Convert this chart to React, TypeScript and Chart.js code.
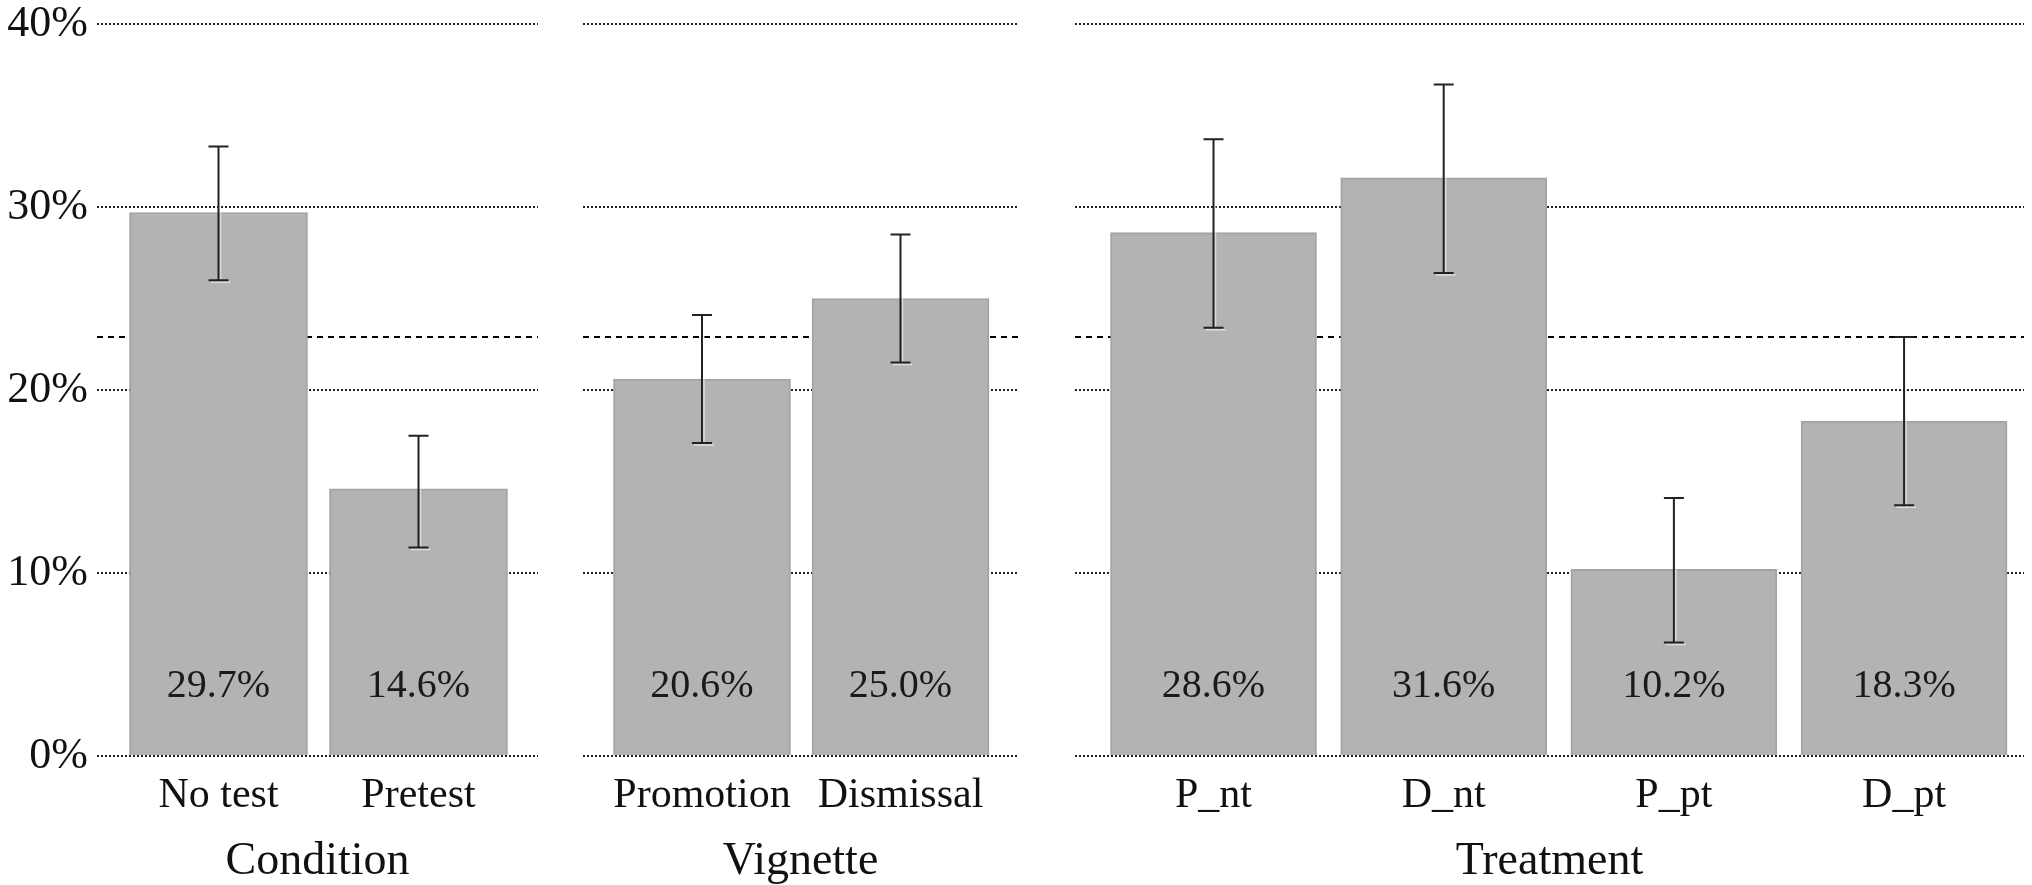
import React, { useEffect, useRef } from 'react';
import { Chart, registerables } from 'chart.js';

Chart.register(...registerables);

// ---------- data ----------
const conditionLabels = ['No test', 'Pretest'];
const conditionValues = [29.7, 14.6];
const conditionLow = [26.0, 11.4];
const conditionHigh = [33.3, 17.5];

const vignetteLabels = ['Promotion', 'Dismissal'];
const vignetteValues = [20.6, 25.0];
const vignetteLow = [17.1, 21.5];
const vignetteHigh = [24.1, 28.5];

const treatmentLabels = ['P_nt', 'D_nt', 'P_pt', 'D_pt'];
const treatmentValues = [28.6, 31.6, 10.2, 18.3];
const treatmentLow = [23.4, 26.4, 6.2, 13.7];
const treatmentHigh = [33.7, 36.7, 14.1, 22.9];

const groupTitles = ['Condition', 'Vignette', 'Treatment'];
const overallMean = 22.9;
const yMin = 0;
const yMax = 40;
const yStep = 10;

// ---------- styling ----------
const FONT = "'Liberation Serif', 'Times New Roman', serif";
const CANVAS_H = 885;
const AREA_TOP = 24;
const AREA_BOTTOM = 756;

type PanelProps = {
  labels: string[];
  values: number[];
  low: number[];
  high: number[];
  title: string;
  showYTicks: boolean;
  left: number;
  width: number;
  areaLeft: number;
  areaRight: number;
  xMin: number;
  xMax: number;
  barThickness: number;
};

function Panel(props: PanelProps) {
  const ref = useRef<HTMLCanvasElement | null>(null);
  useEffect(() => {
    const canvas = ref.current;
    if (!canvas) return;
    const {
      labels, values, low, high, title, showYTicks, width,
      areaLeft, areaRight, xMin, xMax, barThickness,
    } = props;

    const overlay = {
      id: 'overlay',
      beforeDatasetsDraw(chart: any) {
        const { ctx, chartArea } = chart;
        const y = chart.scales.y.getPixelForValue(overallMean);
        ctx.save();
        ctx.strokeStyle = '#000';
        ctx.lineWidth = 2;
        ctx.setLineDash([6, 5]);
        ctx.beginPath();
        ctx.moveTo(chartArea.left, y);
        ctx.lineTo(chartArea.right, y);
        ctx.stroke();
        ctx.restore();
      },
      afterDatasetsDraw(chart: any) {
        const { ctx, chartArea } = chart;
        const yScale = chart.scales.y;
        const meta = chart.getDatasetMeta(0);
        ctx.save();
        // value labels
        ctx.fillStyle = '#1a1a1a';
        ctx.font = `40px ${FONT}`;
        ctx.textAlign = 'center';
        ctx.textBaseline = 'middle';
        meta.data.forEach((bar: any, i: number) => {
          ctx.fillText(values[i].toFixed(1) + '%', bar.x, chartArea.bottom - 70);
        });
        // error bars
        const cap = 10;
        const drawBar = (x: number, yh: number, yl: number, color: string, w: number) => {
          ctx.strokeStyle = color;
          ctx.lineWidth = w;
          ctx.beginPath();
          ctx.moveTo(x, yh);
          ctx.lineTo(x, yl);
          ctx.moveTo(x - cap, yh);
          ctx.lineTo(x + cap, yh);
          ctx.moveTo(x - cap, yl);
          ctx.lineTo(x + cap, yl);
          ctx.stroke();
        };
        meta.data.forEach((bar: any, i: number) => {
          const yh = yScale.getPixelForValue(high[i]);
          const yl = yScale.getPixelForValue(low[i]);
          drawBar(bar.x + 2, yh + 2, yl + 2, 'rgba(255,255,255,0.55)', 1.5);
          drawBar(bar.x, yh, yl, '#222', 2);
        });
        ctx.restore();
      },
    };

    const chart = new Chart(canvas, {
      type: 'bar',
      data: {
        datasets: [
          {
            data: values.map((v, i) => ({ x: i, y: v })),
            backgroundColor: '#b3b3b3',
            borderColor: '#a4a4a4',
            borderWidth: 2,
            barThickness,
          } as any,
        ],
      },
      options: {
        animation: false,
        responsive: true,
        maintainAspectRatio: false,
        layout: { padding: { top: AREA_TOP, right: width - areaRight, bottom: 0, left: 0 } },
        plugins: { legend: { display: false }, tooltip: { enabled: false } },
        scales: {
          x: {
            type: 'linear',
            offset: false,
            min: xMin,
            max: xMax,
            grid: { display: false, drawTicks: false, offset: false },
            border: { display: false },
            afterBuildTicks: (s: any) => {
              s.ticks = labels.map((_, i) => ({ value: i }));
            },
            afterFit: (s: any) => {
              s.height = CANVAS_H - AREA_BOTTOM;
              s.paddingLeft = 0;
              s.paddingRight = 0;
            },
            ticks: {
              autoSkip: false,
              maxRotation: 0,
              padding: 15,
              color: '#111',
              font: { family: FONT, size: 42, lineHeight: 1.2 },
              callback: (v: any) => labels[Math.round(Number(v))] ?? '',
            },
            title: {
              display: true,
              text: title,
              color: '#111',
              padding: 0,
              font: { family: FONT, size: 46, lineHeight: 1 },
            },
          },
          y: {
            min: yMin,
            max: yMax,
            grid: { color: '#222', lineWidth: 2, drawTicks: false },
            border: { display: false, dash: [2, 2] },
            afterFit: (s: any) => {
              s.width = areaLeft;
              s.paddingTop = 0;
              s.paddingBottom = 0;
            },
            ticks: {
              display: showYTicks,
              stepSize: yStep,
              padding: 9,
              color: '#111',
              font: { family: FONT, size: 44, lineHeight: 1 },
              callback: (v: any) => v + '%',
            },
          },
        },
      } as any,
      plugins: [overlay],
    });
    return () => chart.destroy();
  }, []);

  return (
    <div
      style={{
        position: 'absolute',
        left: props.left,
        top: 0,
        width: props.width,
        height: CANVAS_H,
      }}
    >
      <canvas ref={ref} />
    </div>
  );
}

export default function App() {
  return (
    <div
      style={{
        position: 'fixed',
        left: 0,
        top: 0,
        width: 2032,
        height: CANVAS_H,
        background: '#fff',
        overflow: 'hidden',
      }}
    >
      <Panel
        labels={conditionLabels}
        values={conditionValues}
        low={conditionLow}
        high={conditionHigh}
        title={groupTitles[0]}
        showYTicks={true}
        left={0}
        width={560}
        areaLeft={97}
        areaRight={538}
        xMin={-0.6075}
        xMax={1.5975}
        barThickness={178}
      />
      <Panel
        labels={vignetteLabels}
        values={vignetteValues}
        low={vignetteLow}
        high={vignetteHigh}
        title={groupTitles[1]}
        showYTicks={false}
        left={560}
        width={490}
        areaLeft={23}
        areaRight={458}
        xMin={-0.5995}
        xMax={1.592}
        barThickness={177}
      />
      <Panel
        labels={treatmentLabels}
        values={treatmentValues}
        low={treatmentLow}
        high={treatmentHigh}
        title={groupTitles[2]}
        showYTicks={false}
        left={1050}
        width={982}
        areaLeft={25}
        areaRight={974}
        xMin={-0.6017}
        xMax={3.521}
        barThickness={206}
      />
    </div>
  );
}
